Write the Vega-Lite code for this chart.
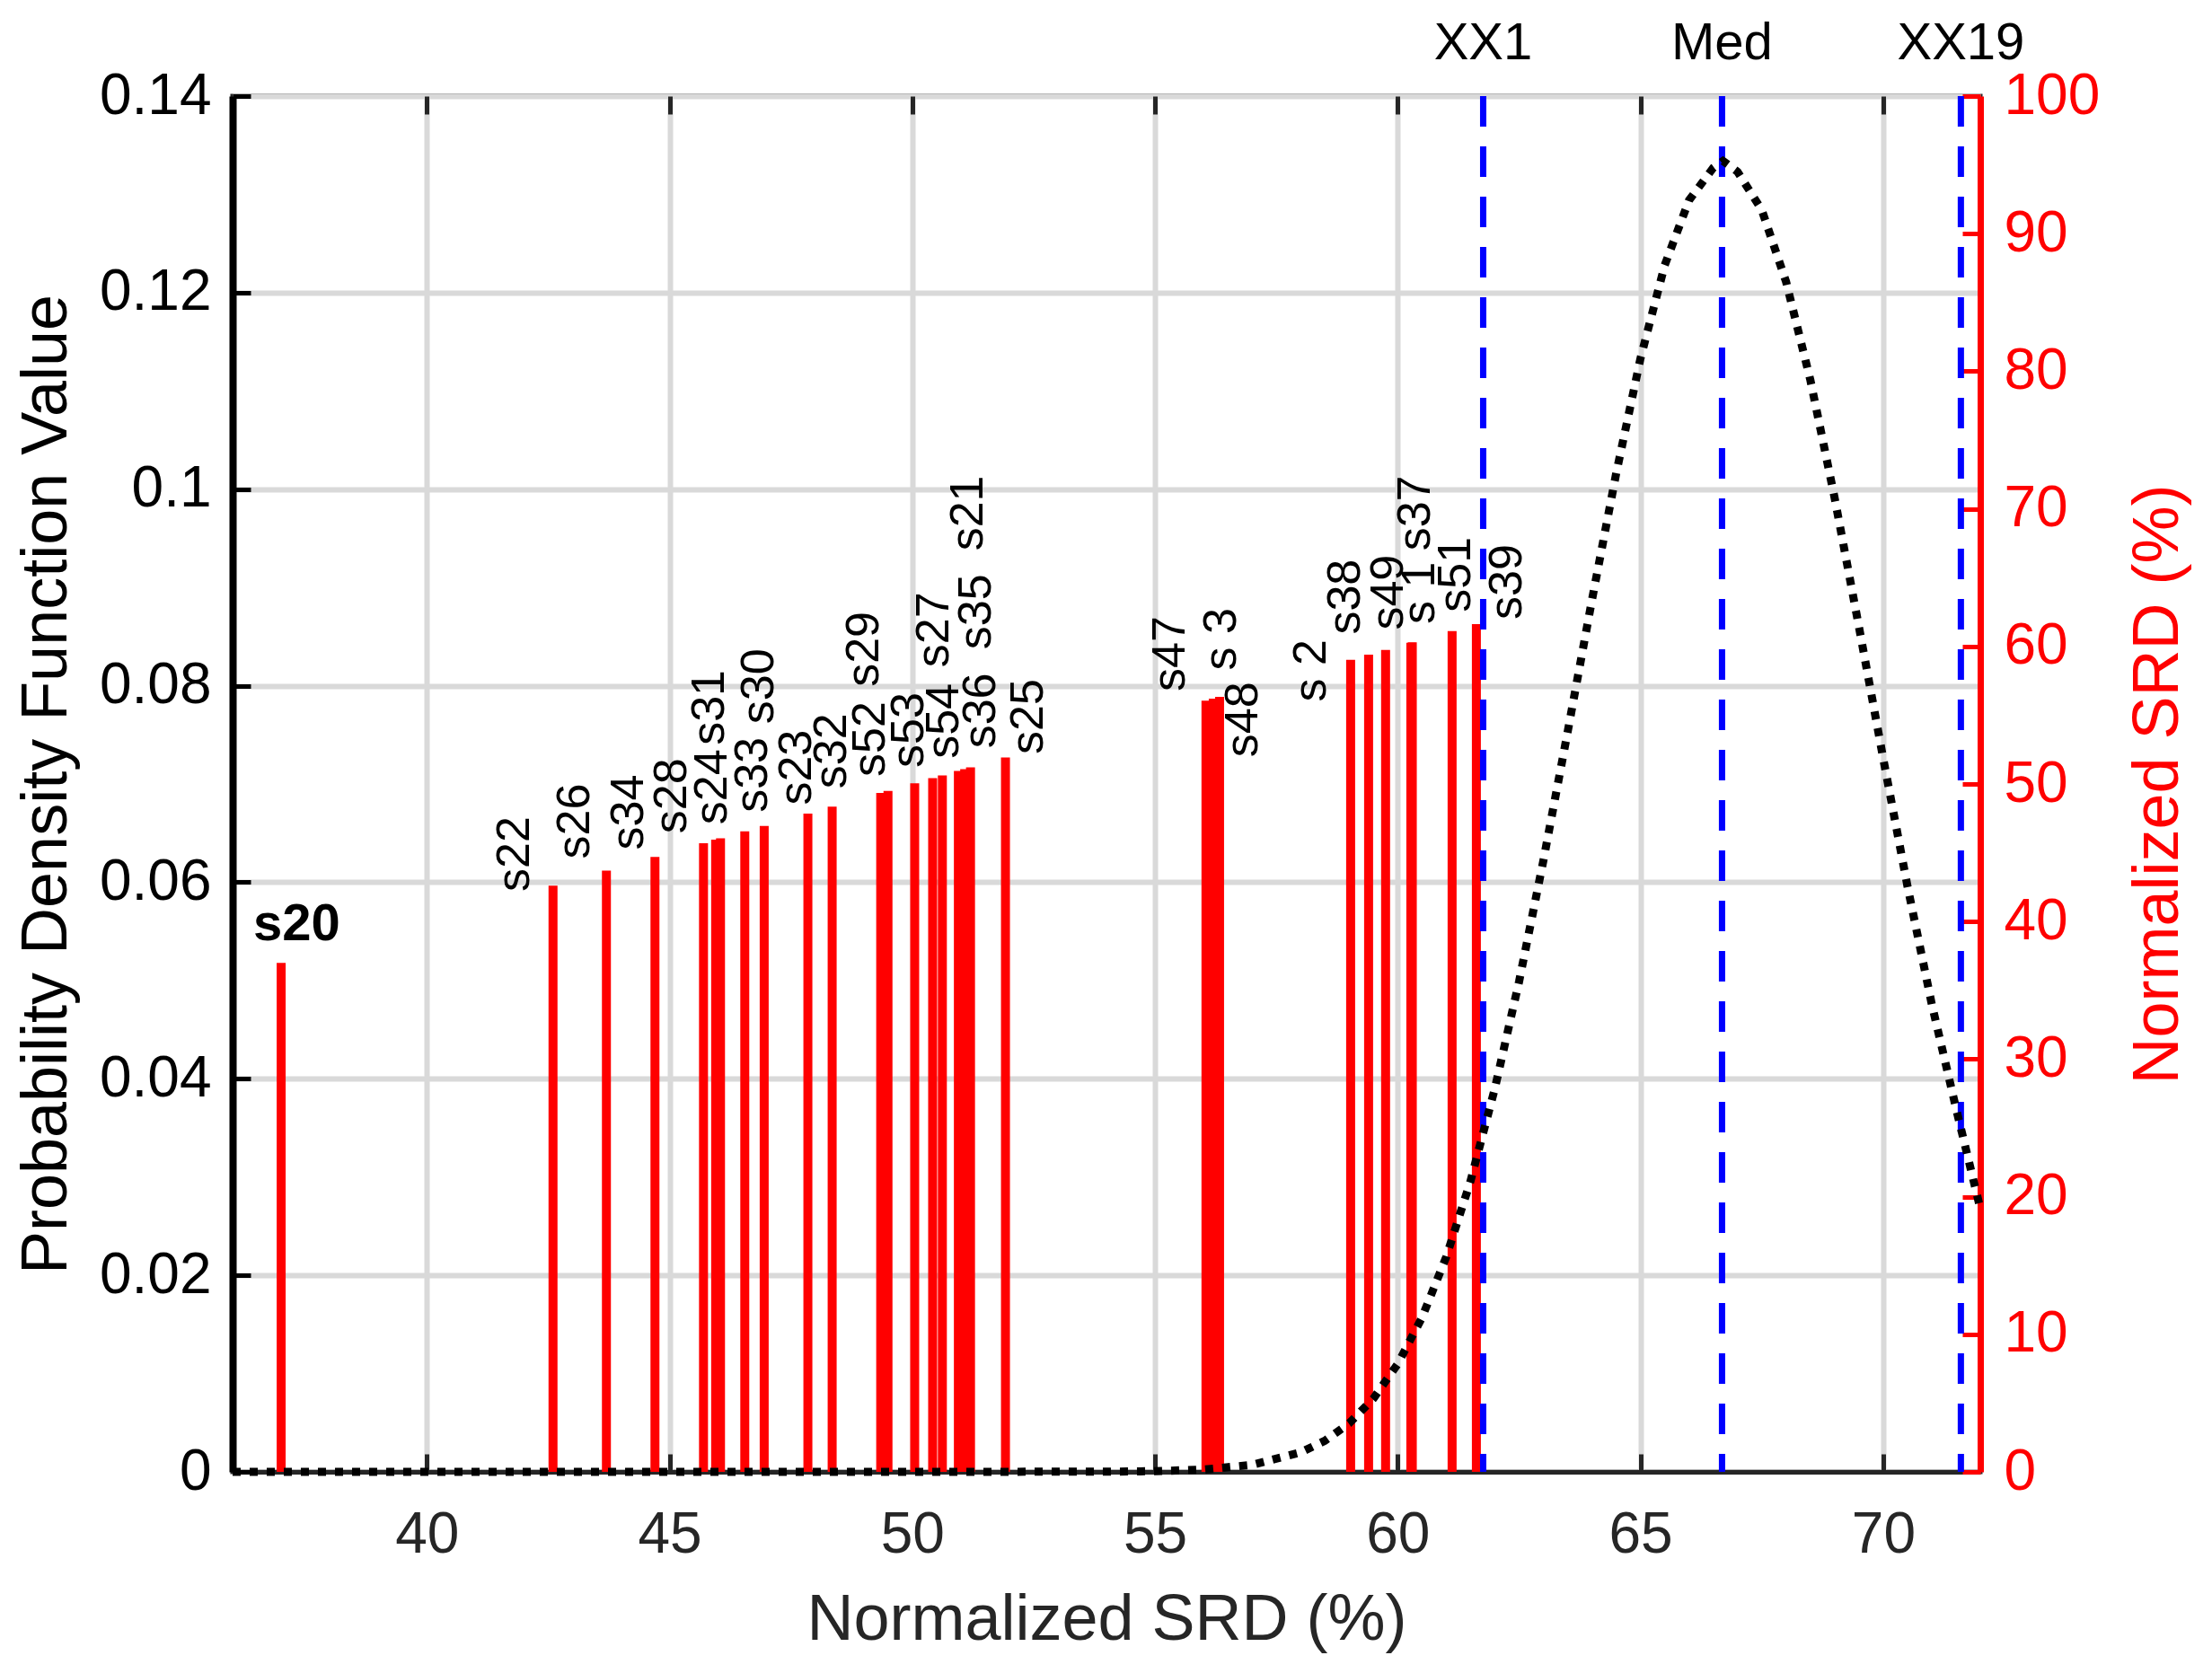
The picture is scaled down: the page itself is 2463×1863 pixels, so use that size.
{
  "$schema": "https://vega.github.io/schema/vega-lite/v6.json",
  "width": 1946,
  "height": 1532,
  "autosize": {"type": "none"},
  "padding": {"left": 259, "top": 107, "right": 258, "bottom": 224},
  "background": "white",
  "config": {
    "font": "Liberation Sans",
    "view": {"stroke": "#262626", "strokeWidth": 5},
    "axis": {
      "gridColor": "#d9d9d9",
      "gridWidth": 6,
      "gridOpacity": 1,
      "tickSize": -20,
      "tickWidth": 5,
      "labelFontSize": 64,
      "titleFontSize": 72,
      "titleFontWeight": "normal",
      "labelColor": "#262626",
      "titleColor": "#262626",
      "domainColor": "#262626",
      "tickColor": "#262626"
    }
  },
  "datasets": {
    "stems": [
      {"name": "s20", "v": 37.0, "lx": 37.32, "ly": 38.67},
      {"name": "s22", "v": 42.6, "lx": 41.81, "ly": 42.17},
      {"name": "s26", "v": 43.7, "lx": 43.04, "ly": 44.55},
      {"name": "s34", "v": 44.7, "lx": 44.15, "ly": 45.2},
      {"name": "s28", "v": 45.7, "lx": 45.04, "ly": 46.4},
      {"name": "s24", "v": 45.95, "lx": 45.88, "ly": 47.05},
      {"name": "s31", "v": 46.05, "lx": 45.82, "ly": 52.82},
      {"name": "s33", "v": 46.55, "lx": 46.72, "ly": 47.92},
      {"name": "s30", "v": 46.95, "lx": 46.84, "ly": 54.36},
      {"name": "s23", "v": 47.85, "lx": 47.61, "ly": 48.46},
      {"name": "s32", "v": 48.35, "lx": 48.34, "ly": 49.66},
      {"name": "s52", "v": 49.35, "lx": 49.14, "ly": 50.53},
      {"name": "s29", "v": 49.5, "lx": 49.0, "ly": 57.06},
      {"name": "s53", "v": 50.05, "lx": 49.93, "ly": 51.18},
      {"name": "s54", "v": 50.42, "lx": 50.65, "ly": 51.84},
      {"name": "s27", "v": 50.62, "lx": 50.45, "ly": 58.47},
      {"name": "s36", "v": 50.95, "lx": 51.41, "ly": 52.59},
      {"name": "s35", "v": 51.08, "lx": 51.31, "ly": 59.78},
      {"name": "s21", "v": 51.2, "lx": 51.16, "ly": 66.95},
      {"name": "s25", "v": 51.92, "lx": 52.39, "ly": 52.16},
      {"name": "s47", "v": 56.05, "lx": 55.32, "ly": 56.73},
      {"name": "s 3", "v": 56.2, "lx": 56.36, "ly": 58.26},
      {"name": "s48", "v": 56.33, "lx": 56.82, "ly": 51.95},
      {"name": "s 2", "v": 59.03, "lx": 58.22, "ly": 55.97},
      {"name": "s38", "v": 59.4, "lx": 58.92, "ly": 60.86},
      {"name": "s49", "v": 59.75, "lx": 59.8, "ly": 61.19},
      {"name": "s 1", "v": 60.27, "lx": 60.46, "ly": 61.62},
      {"name": "s37", "v": 60.3, "lx": 60.37, "ly": 66.95},
      {"name": "s51", "v": 61.12, "lx": 61.2, "ly": 62.49},
      {"name": "s39", "v": 61.62, "lx": 62.25, "ly": 61.95}
    ],
    "pdf": [
      {"x": 36, "p": 0},
      {"x": 44, "p": 0},
      {"x": 50, "p": 0},
      {"x": 54, "p": 0.00002},
      {"x": 55, "p": 0.00007},
      {"x": 56, "p": 0.00023},
      {"x": 57, "p": 0.00071},
      {"x": 58, "p": 0.00198},
      {"x": 58.5, "p": 0.00317},
      {"x": 59, "p": 0.00494},
      {"x": 59.5, "p": 0.00747},
      {"x": 60, "p": 0.01098},
      {"x": 60.5, "p": 0.0157},
      {"x": 61, "p": 0.02188},
      {"x": 61.5, "p": 0.0296},
      {"x": 62, "p": 0.039},
      {"x": 62.5, "p": 0.0499},
      {"x": 63, "p": 0.0622},
      {"x": 63.5, "p": 0.0753},
      {"x": 64, "p": 0.0887},
      {"x": 64.5, "p": 0.1016},
      {"x": 65, "p": 0.1133},
      {"x": 65.5, "p": 0.1228},
      {"x": 66, "p": 0.1294},
      {"x": 66.5, "p": 0.1327},
      {"x": 66.7, "p": 0.1334},
      {"x": 67, "p": 0.1323},
      {"x": 67.5, "p": 0.1284},
      {"x": 68, "p": 0.1211},
      {"x": 68.5, "p": 0.1111},
      {"x": 69, "p": 0.0991},
      {"x": 69.5, "p": 0.086},
      {"x": 70, "p": 0.0726},
      {"x": 70.5, "p": 0.0596},
      {"x": 71, "p": 0.0476},
      {"x": 71.5, "p": 0.037},
      {"x": 72, "p": 0.0268}
    ],
    "refs": [
      {"name": "XX1", "x": 61.76},
      {"name": "Med", "x": 66.68},
      {"name": "XX19", "x": 71.6}
    ]
  },
  "layer": [
    {
      "data": {"name": "stems"},
      "mark": {"type": "rule", "color": "#ff0000", "strokeWidth": 10},
      "encoding": {
        "x": {
          "field": "v", "type": "quantitative",
          "scale": {"domain": [36, 72], "nice": false, "zero": false},
          "axis": {
            "orient": "bottom",
            "values": [40, 45, 50, 55, 60, 65, 70],
            "title": "Normalized SRD (%)",
            "grid": true,
            "domainWidth": 5,
            "labelPadding": 58,
            "titlePadding": 27
          }
        },
        "y": {
          "field": "v", "type": "quantitative",
          "scale": {"domain": [0, 100], "nice": false, "zero": true},
          "axis": {
            "orient": "right",
            "values": [0, 10, 20, 30, 40, 50, 60, 70, 80, 90, 100],
            "grid": false,
            "title": "Normalized SRD (%)",
            "titleAngle": 270,
            "titleBaseline": "top",
            "titleColor": "#ff0000",
            "labelColor": "#ff0000",
            "domainColor": "#ff0000",
            "tickColor": "#ff0000",
            "domainWidth": 7,
            "labelPadding": 46,
            "titlePadding": 30
          }
        },
        "y2": {"datum": 0}
      }
    },
    {
      "data": {"name": "refs"},
      "mark": {"type": "rule", "color": "#0000ff", "strokeWidth": 7, "strokeDash": [34, 22]},
      "encoding": {
        "x": {
          "field": "x", "type": "quantitative",
          "axis": {
            "orient": "top",
            "values": [40, 45, 50, 55, 60, 65, 70],
            "labels": false,
            "domain": false,
            "grid": false,
            "title": null
          }
        }
      }
    },
    {
      "data": {"name": "pdf"},
      "mark": {"type": "line", "color": "#000000", "strokeWidth": 9, "strokeDash": [9, 10]},
      "encoding": {
        "x": {"field": "x", "type": "quantitative", "axis": null},
        "y": {
          "field": "p", "type": "quantitative",
          "scale": {"domain": [0, 0.14], "nice": false},
          "axis": {
            "orient": "left",
            "values": [0, 0.02, 0.04, 0.06, 0.08, 0.1, 0.12, 0.14],
            "format": "~g",
            "grid": true,
            "title": "Probability Density Function Value",
            "titleColor": "#000000",
            "labelColor": "#000000",
            "domainColor": "#000000",
            "tickColor": "#000000",
            "domainWidth": 8,
            "labelPadding": 44,
            "titlePadding": 22
          }
        }
      }
    },
    {
      "data": {"name": "stems"},
      "transform": [{"filter": "datum.name != 's20'"}],
      "mark": {"type": "text", "angle": 270, "align": "left", "baseline": "middle", "fontSize": 52, "color": "#000000"},
      "encoding": {
        "x": {"field": "lx", "type": "quantitative", "axis": null},
        "y": {"field": "ly", "type": "quantitative", "scale": {"domain": [0, 100], "nice": false}, "axis": null},
        "text": {"field": "name"}
      }
    },
    {
      "data": {"name": "stems"},
      "transform": [{"filter": "datum.name == 's20'"}],
      "mark": {"type": "text", "align": "center", "baseline": "alphabetic", "fontSize": 58, "fontWeight": "bold", "color": "#000000"},
      "encoding": {
        "x": {"field": "lx", "type": "quantitative", "axis": null},
        "y": {"field": "ly", "type": "quantitative", "scale": {"domain": [0, 100], "nice": false}, "axis": null},
        "text": {"field": "name"}
      }
    },
    {
      "data": {"name": "refs"},
      "mark": {"type": "text", "align": "center", "baseline": "alphabetic", "fontSize": 58, "dy": -41, "color": "#000000"},
      "encoding": {
        "x": {"field": "x", "type": "quantitative", "axis": null},
        "y": {"datum": 0.14, "type": "quantitative", "scale": {"domain": [0, 0.14], "nice": false}, "axis": null},
        "text": {"field": "name"}
      }
    }
  ],
  "resolve": {"scale": {"y": "independent"}, "axis": {"x": "independent"}}
}
